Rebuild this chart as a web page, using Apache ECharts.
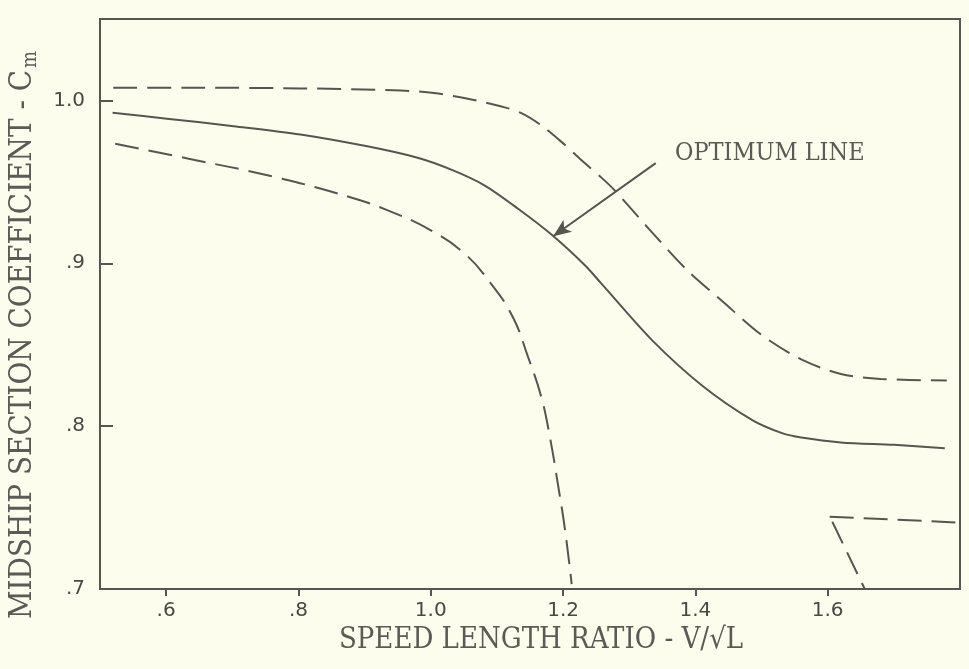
<!DOCTYPE html>
<html>
<head>
<meta charset="utf-8">
<script src="https://cdn.jsdelivr.net/npm/echarts@6/dist/echarts.min.js"></script>
<style>
html,body{margin:0;padding:0;background:#fdfdee;}
#chart{width:969px;height:669px;}
</style>
</head>
<body>
<div id="chart"></div>
<script>
// X tick values and labels
const xTicks = [0.6, 0.8, 1.0, 1.2, 1.4, 1.6];
const xTickLabels = ['.6', '.8', '1.0', '1.2', '1.4', '1.6'];
const yTicks = [0.7, 0.8, 0.9, 1.0];
const yTickLabels = ['.7', '.8', '.9', '1.0'];

// Upper dashed limit curve
const upperV  = [0.520, 0.652, 0.803, 0.955, 1.005, 1.056, 1.107, 1.137, 1.167, 1.198, 1.228, 1.258, 1.278, 1.33, 1.387, 1.44, 1.50, 1.56, 1.62, 1.68, 1.78];
const upperCm = [1.0078, 1.0078, 1.0074, 1.0061, 1.0045, 1.0010, 0.9963, 0.9922, 0.9847, 0.9744, 0.9632, 0.9526, 0.9448, 0.921, 0.896, 0.877, 0.856, 0.841, 0.832, 0.829, 0.828];

// Optimum line (solid)
const optV  = [0.519, 0.601, 0.702, 0.803, 0.904, 0.980, 1.031, 1.081, 1.132, 1.182, 1.233, 1.258, 1.334, 1.41, 1.486, 1.531, 1.56, 1.62, 1.70, 1.777];
const optCm = [0.9924, 0.9888, 0.9842, 0.9791, 0.9718, 0.9648, 0.9575, 0.9479, 0.9335, 0.9178, 0.8988, 0.8875, 0.853, 0.825, 0.8037, 0.7957, 0.793, 0.790, 0.7885, 0.7865];

// Lower dashed limit curve
const lowerV  = [0.523, 0.634, 0.760, 0.877, 0.935, 0.998, 1.051, 1.091, 1.124, 1.147, 1.167, 1.180, 1.192, 1.203, 1.213];
const lowerCm = [0.9734, 0.9642, 0.9534, 0.9407, 0.9325, 0.9207, 0.906, 0.8875, 0.867, 0.8425, 0.818, 0.7935, 0.7648, 0.7362, 0.7030];

// Lower-right dashed segments
const flatV  = [1.603, 1.793];
const flatCm = [0.7444, 0.7409];
const slantV  = [1.607, 1.656];
const slantCm = [0.7413, 0.700];

// Annotation arrow (from, to)
const arrowFrom = [1.34, 0.9615];
const arrowTo   = [1.185, 0.9166];
const noteLabel = 'OPTIMUM LINE';

const zip = (a, b) => a.map((v, i) => [v, b[i]]);
const LINE = '#57554f';
const TXT = '#5c5a55';
const TYPE = "'DejaVu Serif Condensed', 'DejaVu Serif', serif";
const HAND = "'DejaVu Sans', sans-serif";

const dashed = (name, v, c, s) => ({
  name, type: 'line', data: zip(v, c), smooth: s, symbol: 'none',
  lineStyle: {color: LINE, width: 2, type: [24, 10]}, silent: true
});

const chart = echarts.init(document.getElementById('chart'));
chart.setOption({
  backgroundColor: '#fdfdee',
  animation: false,
  grid: {left: 100, right: 9, top: 19, bottom: 80, show: true, borderColor: LINE, borderWidth: 2,
         outerBoundsMode: 'none', containLabel: false},
  xAxis: {
    type: 'value', min: 0.5, max: 1.8,
    name: 'SPEED LENGTH RATIO - V/\u221AL',
    nameLocation: 'middle', nameGap: 37,
    nameTextStyle: {fontFamily: TYPE, fontSize: 29, color: TXT, padding: [0, 0, 0, 22]},
    axisLine: {show: true, lineStyle: {color: LINE, width: 2}},
    axisTick: {show: true, customValues: xTicks, length: 7, lineStyle: {color: LINE, width: 2}},
    axisLabel: {
      customValues: xTicks, margin: 12, fontFamily: HAND, fontSize: 20, color: '#4a4844',
      formatter: v => xTickLabels[xTicks.findIndex(t => Math.abs(t - v) < 1e-6)] || ''
    },
    splitLine: {show: false}
  },
  yAxis: {
    type: 'value', min: 0.7, max: 1.05,
    name: '{main|MIDSHIP SECTION COEFFICIENT - C}{sub|m}',
    nameLocation: 'middle', nameGap: 59, nameRotate: 90,
    nameTextStyle: {
      padding: [0, 62, 0, 0],
      rich: {
        main: {fontFamily: TYPE, fontSize: 31, color: TXT},
        sub: {fontFamily: TYPE, fontSize: 20, color: TXT, padding: [16, 0, 0, 2]}
      }
    },
    axisLine: {show: true, lineStyle: {color: LINE, width: 2}},
    axisTick: {show: true, inside: true, customValues: yTicks, length: 13, lineStyle: {color: LINE, width: 2}},
    axisLabel: {
      customValues: yTicks, margin: 15, fontFamily: HAND, fontSize: 20, color: '#4a4844',
      formatter: v => yTickLabels[yTicks.findIndex(t => Math.abs(t - v) < 1e-6)] || ''
    },
    splitLine: {show: false}
  },
  series: [
    dashed('upper', upperV, upperCm, 0.3),
    {
      name: 'optimum', type: 'line', data: zip(optV, optCm), smooth: 0.3, symbol: 'none',
      lineStyle: {color: LINE, width: 2}, silent: true,
      markLine: {
        silent: true, symbol: ['none', 'arrow'], symbolSize: [11, 18],
        lineStyle: {color: LINE, width: 2, type: 'solid'},
        label: {show: false},
        data: [[{coord: arrowFrom}, {coord: arrowTo}]]
      }
    },
    dashed('lower', lowerV, lowerCm, 0.45),
    dashed('flat', flatV, flatCm, 0),
    dashed('slant', slantV, slantCm, 0)
  ],
  graphic: [{
    type: 'text', left: 675, top: 141,
    style: {text: noteLabel, font: "25px " + TYPE, fill: TXT}
  }]
});
</script>
</body>
</html>
